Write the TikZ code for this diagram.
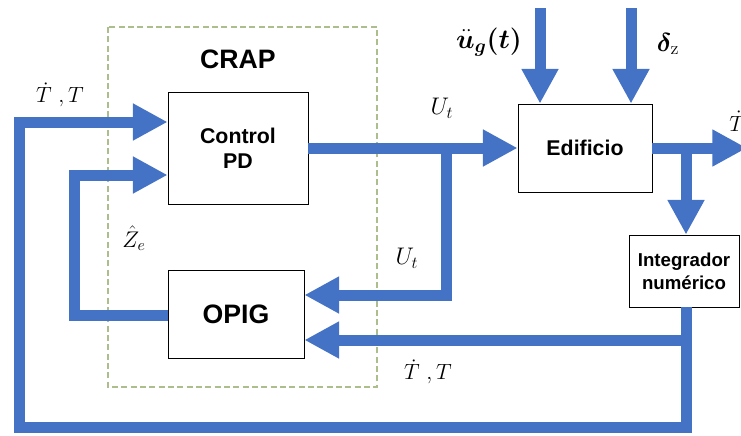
\RequirePackage{fix-cm}
\documentclass[tikz,border=0pt]{standalone}
\usepackage{amsmath,bm}
\usepackage{fontspec}
\setsansfont{Liberation Sans}
\usetikzlibrary{arrows.meta}
\definecolor{flowblue}{RGB}{68,114,196}
\definecolor{dashgreen}{RGB}{172,190,140}
\tikzset{
  flow/.style={draw=flowblue, line width=8.25pt, -{Triangle[length=26pt,width=26pt]}},
  blockbox/.style={draw=black, line width=0.6pt, fill=white, inner sep=0pt, align=center,
    font=\sffamily\bfseries\fontsize{16}{19}\selectfont},
  mathlbl/.style={inner sep=0pt, font=\fontsize{16.5}{19}\selectfont},
  boldlbl/.style={inner sep=0pt, font=\fontsize{20.5}{24}\selectfont}
}
\begin{document}
\begin{tikzpicture}[x=0.75pt,y=-0.75pt]
\useasboundingbox (0,0) rectangle (741,435);
\clip (0,0) rectangle (741,435);
% dashed CRAP frame
\draw[dashgreen, dash pattern=on 4.5pt off 2.5pt, line width=0.8pt] (108,27) rectangle (377,387);
\node[inner sep=0pt, font=\sffamily\bfseries\fontsize{20}{24}\selectfont] (crap) at (238,59) {CRAP};
% blocks
\node[blockbox, minimum width=105pt, minimum height=84pt] (ctrl) at (238,148) {Control\\PD};
\node[blockbox, minimum width=102pt, minimum height=66pt, font=\sffamily\bfseries\fontsize{20}{24}\selectfont] (opig) at (236,314) {OPIG};
\node[blockbox, minimum width=100.5pt, minimum height=66pt] (edif) at (585,148) {Edificio};
\node[blockbox, minimum width=82.5pt, minimum height=54pt, font=\sffamily\bfseries\fontsize{14}{17}\selectfont] (integ) at (684,271) {Integrador\\numérico};
% coordinates
\coordinate (b1) at (446,148);
\coordinate (b2) at (686,148);
\coordinate (out) at (747,148);
\coordinate (j) at (686,340);
\coordinate (c1) at (686,427);
\coordinate (c2) at (19,427);
\coordinate (c3) at (19,122);
\coordinate (i1) at (74,315);
\coordinate (i2) at (74,175);
\coordinate (top1) at (540,8);
\coordinate (top2) at (631,8);
% connectors
\draw[flow] (ctrl.east) -- (edif.west);
\draw[flow] (b1) -- (b1 |- 0,295) -- (opig.east |- 0,295);
\draw[flow] (edif.east) -- (out);
\draw[flow] (b2) -- (b2 |- integ.north);
\draw[flow] (b2 |- integ.south) -- (c1) -- (c2) -- (c3) -- (ctrl.west |- c3);
\draw[flow] (j) -- (opig.east |- j);
\draw[flow] (opig.west |- i1) -- (i1) -- (i2) -- (ctrl.west |- i2);
\draw[flow] (top1) -- (top1 |- edif.north);
\draw[flow] (top2) -- (top2 |- edif.north);
% labels
\node[mathlbl] (l1) at (60,95) {$\dot{T}\ ,T$};
\node[mathlbl, font=\fontsize{17}{20}\selectfont] (l2) at (134,238) {$\hat{Z}_e$};
\node[mathlbl, font=\fontsize{18}{21}\selectfont] (l3) at (442,108) {$U_t$};
\node[mathlbl, font=\fontsize{18}{21}\selectfont] (l4) at (407,258) {$U_t$};
\node[mathlbl] (l5) at (428,372) {$\dot{T}\ ,T$};
\node[boldlbl] (l6) at (489,42) {$\bm{\ddot{u}_g(t)}$};
\node[boldlbl, font=\fontsize{19.5}{23}\selectfont] (l7) at (668,44) {$\bm{\delta}_{\mathrm{z}}$};
\node[mathlbl, anchor=west] (l8) at (729,121) {$\dot{T}$};
\end{tikzpicture}
\end{document}
